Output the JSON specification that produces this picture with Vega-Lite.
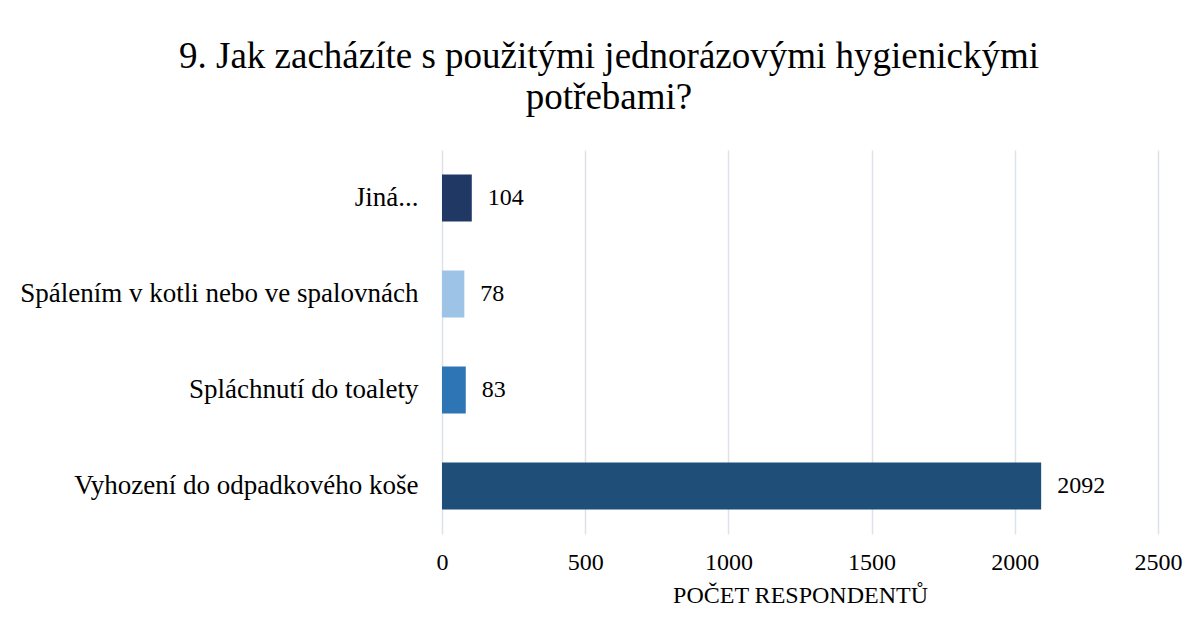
{
  "$schema": "https://vega.github.io/schema/vega-lite/v6.json",
  "autosize": {"type": "none"},
  "width": 716,
  "height": 384,
  "padding": {"left": 442, "top": 150, "right": 40, "bottom": 103},
  "background": "white",
  "title": {
    "text": ["9. Jak zacházíte s použitými jednorázovými hygienickými", "potřebami?"],
    "font": "Liberation Serif",
    "fontSize": 37,
    "fontWeight": "normal",
    "color": "#000000",
    "anchor": "middle",
    "dx": -191,
    "lineHeight": 41,
    "offset": 33
  },
  "data": {
    "values": [
      {"kategorie": "Jiná...", "pocet": 104, "barva": "#203864"},
      {"kategorie": "Spálením v kotli nebo ve spalovnách", "pocet": 78, "barva": "#9dc3e6"},
      {"kategorie": "Spláchnutí do toalety", "pocet": 83, "barva": "#2e75b6"},
      {"kategorie": "Vyhození do odpadkového koše", "pocet": 2092, "barva": "#1f4e79"}
    ]
  },
  "encoding": {
    "y": {
      "field": "kategorie",
      "type": "nominal",
      "sort": null,
      "scale": {"paddingInner": 0.51, "paddingOuter": 0.255},
      "axis": {
        "title": null,
        "domain": false,
        "ticks": false,
        "labelPadding": 24,
        "labelFont": "Liberation Serif",
        "labelFontSize": 27,
        "labelColor": "#000000",
        "labelLimit": 500
      }
    },
    "x": {
      "field": "pocet",
      "type": "quantitative",
      "scale": {"domain": [0, 2500], "nice": false},
      "axis": {
        "values": [0, 500, 1000, 1500, 2000, 2500],
        "format": "d",
        "title": "POČET RESPONDENTŮ",
        "titleFont": "Liberation Serif",
        "titleFontSize": 24,
        "titleFontWeight": "normal",
        "titleColor": "#000000",
        "titlePadding": 9,
        "domain": false,
        "ticks": false,
        "labelFlush": false,
        "labelPadding": 16,
        "labelFont": "Liberation Serif",
        "labelFontSize": 24,
        "labelColor": "#000000",
        "grid": true,
        "gridColor": "#dde1e8",
        "gridWidth": 1.5
      }
    }
  },
  "layer": [
    {
      "mark": {"type": "bar"},
      "encoding": {
        "color": {"field": "barva", "type": "nominal", "scale": null, "legend": null}
      }
    },
    {
      "mark": {"type": "text", "align": "left", "baseline": "middle", "dx": 16, "font": "Liberation Serif", "fontSize": 24, "color": "#000000"},
      "encoding": {
        "text": {"field": "pocet", "type": "quantitative"}
      }
    }
  ],
  "config": {"view": {"stroke": null}}
}
